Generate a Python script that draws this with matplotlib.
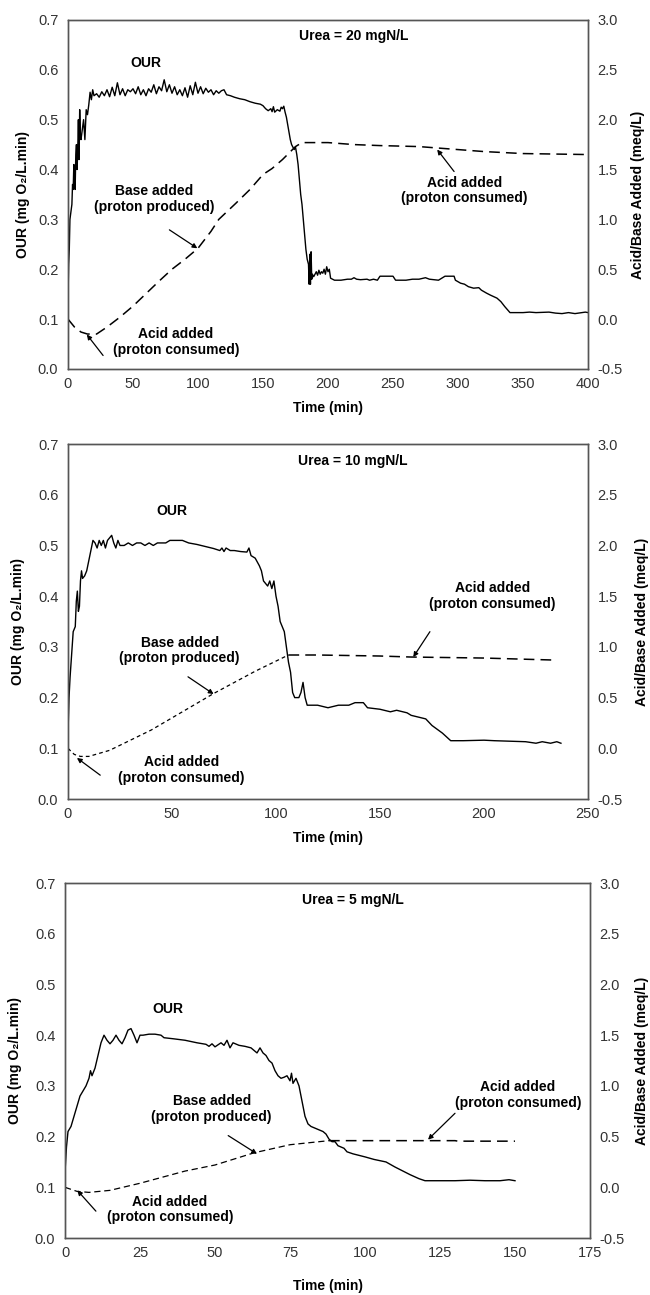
import matplotlib
matplotlib.use("Agg")
import matplotlib.pyplot as plt

plt.rcParams['font.family'] = ['Liberation Sans', 'DejaVu Sans']

# ---- Urea = 20 mgN/L ----
t20 = [0, 0.5, 1, 1.5, 2, 3, 3.5, 4, 4.5, 5, 5.5, 6, 6.5, 7, 7.5, 8, 8.5, 9, 9.5, 10,
       11, 12, 13, 14, 15, 16, 17, 18, 19,
       20, 22, 24, 26, 28, 30, 32, 34, 36, 38, 40, 42, 44, 46, 48, 50, 52, 54, 56, 58,
       60, 62, 64, 66, 68, 70, 72, 74, 76, 78, 80, 82, 84, 86, 88, 90, 92, 94, 96, 98,
       100, 102, 104, 106, 108, 110, 112, 114, 116, 118, 120,
       122, 125, 128, 132, 136, 140, 144, 148, 150, 152, 154, 156, 157, 158, 159, 161,
       163, 164, 165, 166, 167, 168, 169, 170, 171, 172, 173, 174, 175, 176, 177, 178,
       179, 180, 181, 182, 183, 184, 185, 185.5, 186, 186.5, 187, 187.5, 188, 189, 190,
       191, 192, 193, 194, 195, 196, 197, 198, 199, 200, 201, 202, 205, 210, 215, 218,
       220, 222, 225, 230, 232, 235, 238, 240, 250, 252, 260, 265, 270, 275, 278, 285,
       290, 297, 298, 302, 305, 308, 312, 316, 318, 322, 325, 330, 333, 336, 340, 350,
       355, 360, 370, 375, 380, 385, 390, 395, 398, 400]
our20 = [0.14, 0.21, 0.24, 0.30, 0.31, 0.33, 0.37, 0.36, 0.41, 0.39, 0.36, 0.43, 0.45, 0.40, 0.44, 0.50, 0.42, 0.52, 0.47, 0.46,
         0.48, 0.50, 0.46, 0.52, 0.51, 0.53, 0.555, 0.54, 0.56,
         0.548, 0.552, 0.545, 0.556, 0.548, 0.560, 0.546, 0.565, 0.548, 0.574, 0.550, 0.562, 0.548, 0.560, 0.556, 0.562, 0.552, 0.566, 0.550, 0.560,
         0.548, 0.562, 0.555, 0.570, 0.552, 0.566, 0.558, 0.580, 0.556, 0.570, 0.553, 0.566, 0.550, 0.560, 0.548, 0.564, 0.545, 0.568, 0.550, 0.575,
         0.553, 0.566, 0.552, 0.563, 0.555, 0.560, 0.550, 0.558, 0.553, 0.558, 0.560,
         0.550, 0.548, 0.545, 0.542, 0.540, 0.536, 0.533, 0.531, 0.528, 0.522, 0.518, 0.522, 0.516, 0.526, 0.515, 0.520,
         0.517, 0.525, 0.522, 0.527, 0.515, 0.505, 0.49, 0.475, 0.46, 0.45, 0.445, 0.44, 0.445, 0.43, 0.41, 0.38,
         0.35, 0.33, 0.30, 0.27, 0.24, 0.22, 0.21, 0.17, 0.23, 0.17, 0.235, 0.18, 0.19, 0.185, 0.19,
         0.195, 0.188, 0.198, 0.19, 0.195, 0.192, 0.20, 0.19, 0.205, 0.195, 0.20, 0.182, 0.178, 0.178, 0.18, 0.18,
         0.183, 0.18, 0.179, 0.18, 0.178, 0.18, 0.178, 0.186, 0.186, 0.178, 0.178, 0.18, 0.18, 0.183, 0.18, 0.178,
         0.186, 0.186, 0.178, 0.172, 0.17, 0.165, 0.162, 0.163, 0.158, 0.152, 0.148, 0.142, 0.135, 0.125, 0.113, 0.113,
         0.114, 0.113, 0.114, 0.112, 0.111, 0.113, 0.111, 0.113, 0.114, 0.113]
tb20 = [0, 5, 10, 15, 22, 30, 40, 50, 62, 70, 80, 90, 100, 110, 116, 129, 140, 150, 157,
        165, 175, 180, 200, 220, 240, 270, 280, 300, 320, 350, 400]
base20 = [0.0, -0.08, -0.13, -0.15, -0.15, -0.08, 0.02, 0.13, 0.28, 0.38, 0.50, 0.60, 0.71, 0.88, 1.0, 1.16, 1.3, 1.45, 1.51,
          1.6, 1.73, 1.77, 1.77, 1.75, 1.74, 1.73, 1.72, 1.70, 1.68, 1.66, 1.65]

# ---- Urea = 10 mgN/L ----
t10 = [0, 0.5, 1, 2, 2.5, 3.5, 4, 4.5, 5, 5.5, 6, 6.5, 7, 8, 9, 10, 11, 12, 13, 14, 15, 16, 17, 18, 19,
       20, 21, 22, 23, 24, 25, 27, 29, 31, 33, 35, 37, 39, 41, 43, 45, 47, 49, 51, 55, 58, 62, 66, 70,
       73, 74, 75, 76, 78, 80, 83, 86, 87, 88, 90, 92, 93, 94, 96, 97, 98, 99, 100, 101, 102, 103, 104,
       105, 106, 107, 108, 109, 111, 112, 113, 114, 115, 120, 125, 130, 135, 138, 142, 144, 150, 155, 158,
       163, 165, 170, 172, 175, 180, 184, 190, 200, 205, 220, 225, 228, 232, 235, 237]
our10 = [0.13, 0.2, 0.24, 0.3, 0.33, 0.34, 0.39, 0.41, 0.37, 0.38, 0.43, 0.45, 0.435, 0.44, 0.45, 0.47, 0.49, 0.51, 0.505, 0.495, 0.51, 0.50, 0.51, 0.495, 0.51,
         0.515, 0.52, 0.505, 0.495, 0.51, 0.50, 0.50, 0.505, 0.50, 0.505, 0.505, 0.50, 0.505, 0.50, 0.505, 0.505, 0.505, 0.51, 0.51, 0.51, 0.505, 0.502, 0.498, 0.494,
         0.49, 0.495, 0.488, 0.495, 0.49, 0.49, 0.488, 0.487, 0.495, 0.48, 0.475, 0.46, 0.45, 0.43, 0.42, 0.43, 0.415, 0.43, 0.40, 0.38, 0.35, 0.34, 0.33,
         0.30, 0.27, 0.25, 0.21, 0.20, 0.20, 0.21, 0.23, 0.20, 0.185, 0.185, 0.18, 0.185, 0.185, 0.19, 0.19, 0.18, 0.177, 0.172, 0.175,
         0.17, 0.165, 0.16, 0.158, 0.145, 0.13, 0.115, 0.115, 0.116, 0.115, 0.113, 0.11, 0.113, 0.11, 0.113, 0.11]
tb10 = [0, 3, 6, 10, 15, 20, 25, 30, 40, 50, 60, 70, 80, 90, 100, 106]
base10 = [0.0, -0.06, -0.08, -0.08, -0.05, -0.02, 0.03, 0.08, 0.18, 0.30, 0.42, 0.54, 0.65, 0.76, 0.86, 0.92]
tf10 = [106, 120, 150, 165, 200, 234]
flat10 = [0.92, 0.92, 0.91, 0.90, 0.89, 0.87]

# ---- Urea = 5 mgN/L ----
t5 = [0, 0.5, 1, 2, 3, 4, 5, 6, 7, 8, 8.5, 9, 10, 11, 12, 13, 14, 15, 16, 17, 18, 19, 20, 21, 22, 23, 24,
      25, 26, 28, 30, 32, 33, 36, 40, 44, 47, 48, 49, 50, 52, 53, 54, 55, 56, 58, 60, 62, 63, 64, 65, 66,
      67, 68, 69, 70, 71, 72, 73, 74, 75, 75.5, 76, 77, 78, 79, 80, 81, 82, 84, 86, 87, 88, 89, 90, 91,
      93, 94, 96, 98, 100, 103, 107, 110, 115, 118, 120, 130, 135, 140, 145, 148, 150]
our5 = [0.13, 0.18, 0.21, 0.22, 0.24, 0.26, 0.28, 0.29, 0.30, 0.315, 0.33, 0.32, 0.335, 0.36, 0.385, 0.40, 0.39, 0.383, 0.39, 0.40, 0.39, 0.383, 0.395, 0.41, 0.413, 0.40, 0.385,
        0.40, 0.40, 0.402, 0.402, 0.40, 0.395, 0.393, 0.39, 0.385, 0.382, 0.378, 0.383, 0.377, 0.385, 0.38, 0.39, 0.375, 0.385, 0.38, 0.378, 0.375, 0.37, 0.365, 0.375, 0.365,
        0.36, 0.35, 0.345, 0.33, 0.32, 0.315, 0.317, 0.32, 0.31, 0.325, 0.305, 0.315, 0.30, 0.27, 0.24, 0.225, 0.22, 0.215, 0.21, 0.205, 0.195, 0.19, 0.19, 0.182,
        0.177, 0.17, 0.166, 0.163, 0.16, 0.155, 0.15, 0.14, 0.125, 0.117, 0.113, 0.113, 0.114, 0.113, 0.113, 0.115, 0.113]
tb5 = [0, 4, 8, 15, 25, 40, 50, 63, 75, 88]
base5 = [0.0, -0.04, -0.05, -0.03, 0.04, 0.16, 0.22, 0.34, 0.42, 0.46]
tf5 = [88, 110, 130, 131, 150]
flat5 = [0.46, 0.46, 0.46, 0.455, 0.455]

urea_labels = ['Urea = 20 mgN/L', 'Urea = 10 mgN/L', 'Urea = 5 mgN/L']
x_max = [400, 250, 175]
x_step = [50, 50, 25]

fig = plt.figure(figsize=(6.5, 12.95), dpi=100)
rects = [[0.1046, 0.7151, 0.8, 0.2695],
         [0.1046, 0.3830, 0.8, 0.2741],
         [0.1000, 0.0440, 0.8077, 0.2741]]

bold = dict(fontsize=10, fontweight='bold', ha='center', va='center')
arrow = dict(arrowstyle='-|>', lw=0.9, color='black', mutation_scale=7, shrinkA=0, shrinkB=0)


def setup(ax, ax2, i, ylx, y2x, xly):
    ax.set_xlim(0, x_max[i])
    ax.set_ylim(0, 0.7)
    ax.set_xticks(range(0, x_max[i] + 1, x_step[i]))
    ax.set_yticks([0.0, 0.1, 0.2, 0.3, 0.4, 0.5, 0.6, 0.7])
    ax.set_yticklabels(['%.1f' % v for v in [0.0, 0.1, 0.2, 0.3, 0.4, 0.5, 0.6, 0.7]])
    ax2.set_ylim(-0.5, 3.0)
    ax2.set_yticks([-0.5, 0.0, 0.5, 1.0, 1.5, 2.0, 2.5, 3.0])
    ax2.set_yticklabels(['%.1f' % v for v in [-0.5, 0.0, 0.5, 1.0, 1.5, 2.0, 2.5, 3.0]])
    for a in (ax, ax2):
        a.tick_params(length=0, labelsize=10.5, colors='#333333', pad=7)
        for s in a.spines.values():
            s.set_color('#555555')
            s.set_linewidth(1.0)
    ax.tick_params(axis='x', pad=6)
    ax.set_ylabel('OUR (mg O₂/L.min)', fontsize=10, fontweight='bold')
    ax.yaxis.set_label_coords(ylx, 0.5)
    ax2.set_ylabel('Acid/Base Added (meq/L)', fontsize=10, fontweight='bold')
    ax2.yaxis.set_label_coords(y2x, 0.5)
    ax.set_xlabel('Time (min)', fontsize=10, fontweight='bold')
    ax.xaxis.set_label_coords(0.5, xly)


# panel 1
ax = fig.add_axes(rects[0])
ax2 = ax.twinx()
ax.plot(t20, our20, color='black', lw=1.0)
ax2.plot(tb20, base20, color='black', lw=1.1, linestyle=(0, (7, 4)))
setup(ax, ax2, 0, -0.073, 1.083, -0.092)
ax.text(60, 0.613, 'OUR', **bold)
ax.text(220, 0.667, urea_labels[0], **bold)
ax.text(66, 0.341, 'Base added\n(proton produced)', linespacing=1.15, **bold)
ax.annotate('', xy=(99.5, 0.242), xytext=(78, 0.279), arrowprops=arrow)
ax.text(83, 0.054, 'Acid added\n(proton consumed)', linespacing=1.15, **bold)
ax.annotate('', xy=(14.5, 0.069), xytext=(27, 0.027), arrowprops=arrow)
ax.text(305, 0.358, 'Acid added\n(proton consumed)', linespacing=1.15, **bold)
ax.annotate('', xy=(284, 0.44), xytext=(297, 0.396), arrowprops=arrow)

# panel 2
ax = fig.add_axes(rects[1])
ax2 = ax.twinx()
ax.plot(t10, our10, color='black', lw=1.0)
ax2.plot(tb10, base10, color='black', lw=0.9, linestyle=(0, (3, 2.5)))
ax2.plot(tf10, flat10, color='black', lw=1.1, linestyle=(0, (7, 4)))
setup(ax, ax2, 1, -0.083, 1.09, -0.09)
ax.text(50, 0.567, 'OUR', **bold)
ax.text(137, 0.666, urea_labels[1], **bold)
ax.text(53.7, 0.293, 'Base added\n(proton produced)', linespacing=1.15, **bold)
ax.annotate('', xy=(70, 0.207), xytext=(57.7, 0.241), arrowprops=arrow)
ax.text(54.5, 0.057, 'Acid added\n(proton consumed)', linespacing=1.15, **bold)
ax.annotate('', xy=(4.3, 0.081), xytext=(15.5, 0.047), arrowprops=arrow)
ax.text(204, 0.40, 'Acid added\n(proton consumed)', linespacing=1.15, **bold)
ax.annotate('', xy=(166, 0.28), xytext=(174, 0.33), arrowprops=arrow)

# panel 3
ax = fig.add_axes(rects[2])
ax2 = ax.twinx()
ax.plot(t5, our5, color='black', lw=1.0)
ax2.plot(tb5, base5, color='black', lw=0.9, linestyle=(0, (5, 3)))
ax2.plot(tf5, flat5, color='black', lw=1.1, linestyle=(0, (7, 4)))
setup(ax, ax2, 2, -0.082, 1.086, -0.115)
ax.text(34.4, 0.452, 'OUR', **bold)
ax.text(96, 0.667, urea_labels[2], **bold)
ax.text(48.9, 0.255, 'Base added\n(proton produced)', linespacing=1.15, **bold)
ax.annotate('', xy=(64, 0.166), xytext=(54.4, 0.202), arrowprops=arrow)
ax.text(35, 0.056, 'Acid added\n(proton consumed)', linespacing=1.15, **bold)
ax.annotate('', xy=(4.1, 0.094), xytext=(10.3, 0.053), arrowprops=arrow)
ax.text(151, 0.282, 'Acid added\n(proton consumed)', linespacing=1.15, **bold)
ax.annotate('', xy=(121, 0.194), xytext=(130, 0.246), arrowprops=arrow)

fig.savefig('out.png', dpi=100)
